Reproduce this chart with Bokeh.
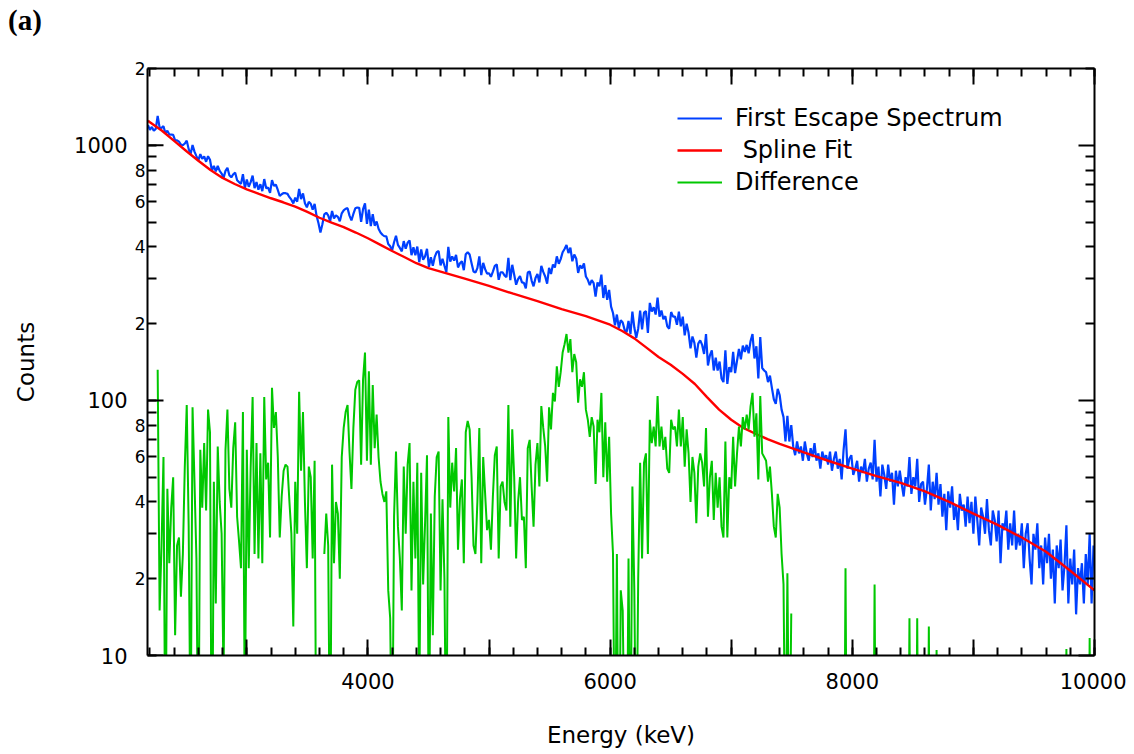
from bokeh.plotting import figure
from bokeh.layouts import column
from bokeh.models import (FixedTicker, LinearAxis, LogAxis, Legend, LegendItem,
                          CustomJSTickFormatter, Div)
from bokeh.embed import file_html
from bokeh.resources import INLINE

nan = float("nan")

# ---------------- data ----------------
# spectrum bins (keV): first bin centre and bin width
E_START = 2184
E_STEP = 16

blue_counts = [
    1200, 1150, 1180, 1140, 1160, 1304, 1173, 1171, 1188, 1115, 1141, 1103, 1102, 1098, 1045, 1045, 1033, 1007, 1000, 1016, 1043, 966, 925, 1002, 944,
    907, 873, 923, 886, 904, 862, 906, 878, 795, 831, 790, 830, 794, 775, 745, 794, 816, 763, 749, 770, 781, 729, 717, 706, 770,
    679, 734, 688, 717, 761, 679, 718, 670, 704, 661, 737, 679, 683, 651, 730, 693, 701, 668, 633, 643, 650, 649, 645, 626, 612,
    592, 623, 601, 674, 615, 648, 593, 571, 600, 590, 560, 589, 529, 495, 455, 490, 536, 544, 531, 504, 553, 517, 531, 524, 504,
    541, 556, 564, 567, 530, 508, 538, 566, 570, 569, 501, 562, 592, 492, 560, 482, 537, 484, 503, 471, 455, 446, 440, 440, 410,
    402, 388, 417, 442, 407, 396, 384, 421, 393, 415, 424, 371, 398, 371, 401, 348, 391, 356, 367, 393, 334, 364, 337, 365, 381,
    385, 338, 359, 337, 318, 400, 350, 367, 353, 372, 332, 345, 351, 324, 374, 381, 373, 345, 320, 317, 330, 367, 310, 346, 327,
    314, 315, 305, 320, 337, 341, 297, 318, 318, 309, 304, 362, 296, 340, 311, 284, 299, 307, 290, 289, 275, 317, 320, 295, 280,
    302, 313, 290, 337, 319, 306, 287, 331, 313, 341, 332, 367, 343, 358, 381, 392, 407, 378, 397, 351, 373, 360, 316, 338, 329,
    344, 306, 297, 283, 296, 288, 255, 290, 280, 311, 252, 283, 248, 271, 233, 220, 197, 217, 192, 206, 202, 189, 185, 205, 182,
    223, 193, 176, 191, 225, 190, 221, 224, 184, 241, 223, 232, 217, 253, 213, 225, 208, 214, 195, 191, 222, 213, 213, 198, 223,
    195, 213, 180, 200, 184, 160, 178, 168, 147, 167, 172, 165, 152, 182, 137, 150, 157, 131, 147, 131, 142, 122, 118, 157, 116,
    135, 129, 155, 128, 143, 159, 145, 164, 155, 165, 153, 171, 182, 146, 163, 122, 177, 134, 131, 129, 118, 125, 112, 101, 97,
    111, 105, 92, 86, 69, 87, 69, 80, 66, 61, 69, 62, 66, 58, 69, 62, 58, 65, 60, 68, 58, 62, 54, 63, 59,
    61, 56, 63, 53, 59, 63, 54, 59, 49, 64, 77, 54, 59, 61, 51, 54, 58, 48, 55, 52, 59, 48, 54, 57, 49,
    70, 48, 55, 42, 56, 51, 45, 56, 48, 52, 39, 53, 46, 53, 47, 42, 50, 46, 60, 43, 50, 46, 59, 40, 47,
    48, 39, 45, 56, 37, 48, 41, 52, 39, 47, 35, 43, 31, 44, 38, 46, 34, 39, 31, 43, 37, 39, 32, 42, 33,
    40, 30, 42, 34, 27, 38, 35, 30, 41, 31, 27, 37, 34, 28, 37, 23, 33, 31, 37, 26, 33, 27, 37, 26, 30,
    27, 33, 22, 30, 33, 24, 19, 30, 26, 33, 22, 27, 19, 29, 23, 30, 20, 26, 16, 27, 22, 28.5, 18, 22.5, 32.4,
    16, 24, 19, 26, 14.5, 22, 19, 23, 16, 25, 19, 30, 16, 27,
]

green_counts = (
    [nan, nan, nan, nan, nan, 132, 15, 27, 60, 3, 45, 23, 38, 50, 12, 27, 29, 17, 25, 55, 96, 32, 4, 94, 48]
    + [24, 3, 64, 38, 68, 37, 92, 75, 2, 48, 16, 66, 40, 30, 8, 64, 92, 45, 38, 65, 82, 35, 28, 22, 90]
    + [5, 64, 22, 55, 103, 25, 68, 24, 62, 23, 103, 49, 57, 29, 112, 78, 90, 60, 29, 42, 53, 56, 55, 40, 30]
    + [13, 48, 30, 108, 53, 90, 40, 22, 55, 50, 24, 58, 2, nan, nan, nan, 25, 36, 27, 3, 56, 23, 40, 36, 20]
    + [60, 78, 90, 96, 63, 45, 78, 110, 118, 120, 56, 121, 154, 58, 130, 56, 115, 65, 88, 60, 48, 43, 40, 44, 18]
    + [14, 3, 35, 63, 32, 24, 15, 55, 30, 56, 68, 18, 48, 24, 57, 6, 52, 19, 33, 61, 4, 36, 12, 42, 60]
    + [63, 18, 41, 20, 3, 86, 38, 57, 44, 65, 26, 41, 49, 23, 75, 83, 77, 50, 27, 25, 40, 78, 23, 60, 43]
    + [31, 34, 26, 42, 61, 66, 24, 46, 48, 40, 37, 96, 32, 77, 50, 24, 40, 50, 34, 35, 22, 65, 70, 46, 32]
    + [56, 68, 46, 95, 78, 66, 48, 94, 77, 107, 99, 136, 113, 129, 154, 166, 182, 154, 174, 129, 152, 141, 98, 121, 113]
    + [129, 92, 84, 72, 86, 79, 47, 84, 75, 107, 50, 82, 48, 72, 36, 25, 3, 25, 2, 18, 15, 4, 2, 24, 3]
    + [46, 18, 3, 20, 57, 24, 57, 62, 25, 84, 68, 79, 66, 104, 66, 79, 64, 72, 54, 52, 84, 77, 79, 66, 92]
    + [66, 86, 55, 77, 62, 40, 60, 52, 33, 55, 62, 57, 46, 78, 35, 50, 58, 34, 52, 38, 50, 32, 29, 69, 29]
    + [50, 45, 72, 46, 62, 79, 66, 86, 77, 88, 77, 95, 107, 72, 89, 49, 104, 62, 60, 58, 48, 55, 43, 32, 29]
    + [43, 38, 25, 19, 3, 21, 3, 14.6] + [nan] * 17
    + [nan] * 9 + [1, 22, 1] + [nan] * 12 + [1]
    + [19, 1] + [nan] * 15 + [1, 14, 1, nan, 1, 14, 1, nan]
    + [nan, nan, 1, 13, 1, nan, 1, 10.5, 1] + [nan] * 16
    + [nan] * 25
    + [nan] * 23 + [1, 10.6]
    + [1] + [nan] * 9 + [1, 11.7, 1, nan]
)

red_energy = [2184, 2200, 2300, 2400, 2500, 2600, 2700, 2800, 2900, 3000,
              3100, 3200, 3300, 3400, 3500, 3600, 3700, 3800, 3900, 4000,
              4100, 4200, 4300, 4400, 4500, 4600, 4800, 5000, 5200, 5400,
              5600, 5800, 6000, 6100, 6200, 6300, 6400, 6500, 6600, 6700,
              6800, 6900, 7000, 7100, 7200, 7300, 7400, 7600, 7800, 8000,
              8200, 8400, 8600, 8800, 9000, 9200, 9400, 9600, 9800, 10000]
red_counts = [1250, 1230, 1140, 1040, 950, 870, 800, 745, 705, 672,
              645, 620, 598, 575, 548, 520, 498, 478, 455, 432,
              408, 385, 365, 345, 330, 320, 300, 281, 262, 245,
              228, 214, 198, 187, 175, 161, 148, 138, 127, 116,
              103, 92, 84, 78, 74, 70.5, 67.5, 62.5, 58, 54,
              50.5, 47.5, 44, 40, 36, 32.5, 29, 25.5, 21.5, 18]

series_labels = ["First Escape Spectrum", "\u00a0Spline Fit", "Difference"]
panel_tag = "(a)"

X_START, X_END = 2180, 10000
Y_MIN, Y_MAX = 10, 2000

x_major = [3000, 4000, 5000, 6000, 7000, 8000, 9000, 10000]
x_minor = list(range(2200, 10001, 200))
x_tick_labels = {3000: "", 4000: "4000", 5000: "", 6000: "6000", 7000: "",
                 8000: "8000", 9000: "", 10000: "10000"}

y_decades = [10, 100, 1000]
y_decade_labels = {10: "10", 100: "100", 1000: "1000"}
y_digit_ticks = [20, 40, 60, 80, 200, 400, 600, 800, 2000]
y_digit_labels = {20: "2", 40: "4", 60: "6", 80: "8", 200: "2", 400: "4",
                  600: "6", 800: "8", 2000: "2"}
y_other = [10, 30, 50, 70, 90, 100, 300, 500, 700, 900, 1000]
y_minor = [20, 30, 40, 50, 60, 70, 80, 90, 200, 300, 400, 500, 600, 700, 800, 900, 2000]

energy = [E_START + E_STEP * i for i in range(len(blue_counts))]

# ---------------- figure ----------------
FONT = "DejaVu Sans"

p = figure(width=1126, height=710, x_range=(X_START, X_END), y_range=(Y_MIN, Y_MAX),
           y_axis_type="log", output_backend="svg", toolbar_location=None,
           min_border_left=147, min_border_right=32, min_border_top=28,
           min_border_bottom=95)
p.outline_line_color = None
p.xgrid.grid_line_color = None
p.ygrid.grid_line_color = None

rb = p.line(energy, blue_counts, line_color="#0040ff", line_width=2.2)
rr = p.line(red_energy, red_counts, line_color="#ff0000", line_width=2.4)
rg = p.line(energy, green_counts, line_color="#00c800", line_width=2.0)

# long inward ticks at the decades on the left frame edge
p.ray(x=[X_START] * len(y_decades), y=y_decades, length=16, length_units="screen",
      angle=0, line_color="black", line_width=2)

xt = FixedTicker(ticks=x_major, minor_ticks=x_minor)
blank = CustomJSTickFormatter(code="return ''")


def style(ax, major_len, minor_len):
    ax.axis_line_width = 2
    ax.axis_line_color = "black"
    ax.major_tick_line_width = 2
    ax.minor_tick_line_width = 2
    ax.major_tick_in = major_len
    ax.major_tick_out = 0
    ax.minor_tick_in = minor_len
    ax.minor_tick_out = 0


xa = p.xaxis[0]
xa.ticker = xt
xa.major_label_overrides = x_tick_labels
style(xa, 16, 8)
xa.major_label_standoff = 17
xa.major_label_text_font = FONT
xa.major_label_text_font_size = "21px"
xa.major_label_text_color = "black"
xa.axis_label = "Energy (keV)"
xa.axis_label_text_font = FONT
xa.axis_label_text_font_size = "23px"
xa.axis_label_standoff = 30
xa.axis_label_text_font_style = "normal"
xa.axis_label_text_color = "black"

# inner left axis: frame line, all short ticks, single-digit labels
ya = p.yaxis[0]
ya.ticker = FixedTicker(ticks=y_digit_ticks, minor_ticks=y_other)
ya.major_label_overrides = y_digit_labels
style(ya, 9, 9)
ya.major_label_standoff = 2
ya.major_label_text_font = FONT
ya.major_label_text_font_size = "17px"
ya.major_label_text_color = "black"

# outer left axis: decade labels and the axis title
yo = LogAxis(ticker=FixedTicker(ticks=y_decades), major_label_overrides=y_decade_labels)
yo.axis_line_color = None
yo.major_tick_line_color = None
yo.minor_tick_line_color = None
yo.major_tick_in = 0
yo.major_tick_out = 0
yo.minor_tick_in = 0
yo.minor_tick_out = 0
yo.major_label_standoff = 4
yo.major_label_text_font = FONT
yo.major_label_text_font_size = "21px"
yo.major_label_text_color = "black"
yo.axis_label = "Counts"
yo.axis_label_text_font = FONT
yo.axis_label_text_font_size = "23px"
yo.axis_label_text_font_style = "normal"
yo.axis_label_text_color = "black"
yo.axis_label_standoff = 32
p.add_layout(yo, "left")

top = LinearAxis(ticker=xt, formatter=blank, major_label_text_font_size="0px",
                 major_label_standoff=0)
style(top, 16, 8)
p.add_layout(top, "above")

right = LogAxis(ticker=FixedTicker(ticks=y_decades, minor_ticks=y_minor), formatter=blank,
                major_label_text_font_size="0px", major_label_standoff=0)
style(right, 16, 9)
p.add_layout(right, "right")

legend = Legend(items=[LegendItem(label=series_labels[0], renderers=[rb]),
                       LegendItem(label=series_labels[1], renderers=[rr]),
                       LegendItem(label=series_labels[2], renderers=[rg])],
                location=(530, 457))
legend.border_line_color = None
legend.background_fill_alpha = 0
legend.glyph_width = 45
legend.glyph_height = 32
legend.label_height = 32
legend.spacing = 0
legend.padding = 0
legend.margin = 0
legend.label_standoff = 13
legend.label_text_font = FONT
legend.label_text_font_size = "24px"
legend.label_text_color = "black"
p.add_layout(legend)

tag = Div(text=panel_tag, width=120, height=40, margin=(0, 0, 0, 0),
          styles={"font-family": "Liberation Serif", "font-weight": "bold",
                  "font-size": "29px", "color": "black", "padding-left": "8px",
                  "padding-top": "4px", "line-height": "1.15"})

layout = column(tag, p, spacing=0)

open("out.html", "w").write(file_html(layout, INLINE))
